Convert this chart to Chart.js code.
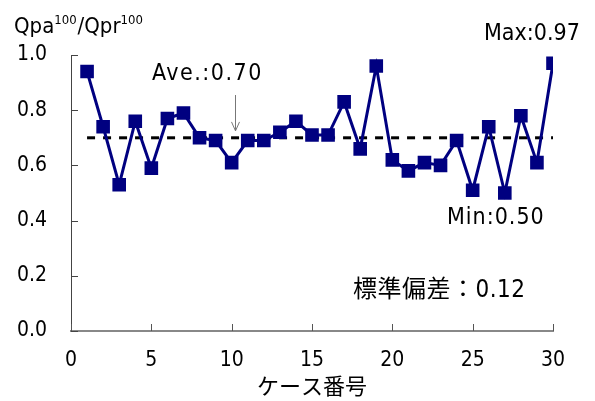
<!DOCTYPE html>
<html>
<head>
<meta charset="utf-8">
<script src="https://cdn.jsdelivr.net/npm/chart.js@4.4.1/dist/chart.umd.min.js"></script>
<style>
  html, body { margin: 0; padding: 0; background: #fff; }
  #wrap { width: 595px; height: 401px; }
</style>
</head>
<body>
<div id="wrap"><canvas id="myChart" width="595" height="401"></canvas></div>
<script>
var caseNo = [1,2,3,4,5,6,7,8,9,10,11,12,13,14,15,16,17,18,19,20,21,22,23,24,25,26,27,28,29,30];
var ratio = [0.94,0.74,0.53,0.76,0.59,0.77,0.79,0.70,0.69,0.61,0.69,0.69,0.72,0.76,0.71,0.71,0.83,0.66,0.96,0.62,0.58,0.61,0.60,0.69,0.51,0.74,0.50,0.78,0.61,0.97];
var average = 0.70;
var yTicks = [0.0, 0.2, 0.4, 0.6, 0.8, 1.0];
var xTicks = [0, 5, 10, 15, 20, 25, 30];

var FONT = '"DejaVu Sans Condensed", "Noto Sans CJK JP", sans-serif';

document.addEventListener("DOMContentLoaded", function() {
    var linePts = caseNo.map(function(c, i) { return {x: c, y: ratio[i]}; });
    var avePts = [{x: caseNo[0], y: average}, {x: caseNo[caseNo.length - 1], y: average}];

    function note(c, text, x, y, size, spacing) {
        c.font = size + 'px ' + FONT;
        c.letterSpacing = spacing + 'px';
        c.fillText(text, x, y);
        c.letterSpacing = '0px';
    }

    // inward tick marks, axis titles and notes
    var extras = {
        id: 'extras',
        afterDraw: function(chart) {
            var c = chart.ctx, xs = chart.scales.x, ys = chart.scales.y;
            var area = chart.chartArea;
            c.save();
            c.strokeStyle = '#444';
            c.lineWidth = 1;
            yTicks.forEach(function(v) {
                var py = Math.round(ys.getPixelForValue(v)) + 0.5;
                c.beginPath(); c.moveTo(area.left, py); c.lineTo(area.left + 7, py); c.stroke();
            });
            c.strokeStyle = '#555';
            xTicks.forEach(function(v) {
                var px = Math.round(xs.getPixelForValue(v)) + 0.5;
                c.beginPath(); c.moveTo(px, area.bottom); c.lineTo(px, area.bottom - 7); c.stroke();
            });

            c.fillStyle = '#000';
            c.textBaseline = 'alphabetic';
            c.textAlign = 'left';
            // y title with superscripts
            var x = 14, base = 33;
            var parts = [['Qpa', 22, 0], ['100', 13, -9], ['/Qpr', 22, 0], ['100', 13, -9]];
            parts.forEach(function(p) {
                c.font = p[1] + 'px ' + FONT;
                c.fillText(p[0], x, base + p[2]);
                x += c.measureText(p[0]).width + (p[1] < 20 ? 1 : 0);
            });

            c.font = '22px ' + FONT;
            c.textAlign = 'center';
            c.fillText('ケース番号', (area.left + area.right) / 2, 394);

            c.textAlign = 'left';
            c.textBaseline = 'middle';
            note(c, 'Ave.:0.70', 152, 74, 23, 1.5);
            note(c, 'Max:0.97', 484, 34, 23, 0);
            note(c, 'Min:0.50', 447, 218, 23, 1);
            note(c, '標準偏差：0.12', 353, 291, 24, 0.5);

            // arrow to the average line
            var ax = Math.round(xs.getPixelForValue(10.2)) + 0.5;
            var y0 = ys.getPixelForValue(0.855), y1 = ys.getPixelForValue(0.725);
            c.strokeStyle = '#777';
            c.lineWidth = 1;
            c.beginPath(); c.moveTo(ax, y0); c.lineTo(ax, y1); c.stroke();
            c.beginPath(); c.moveTo(ax - 4, y1 - 9); c.lineTo(ax, y1); c.lineTo(ax + 4, y1 - 9); c.stroke();
            c.restore();
        }
    };

    var ctx = document.getElementById('myChart').getContext('2d');
    new Chart(ctx, {
        type: 'line',
        data: {
            datasets: [{
                data: linePts,
                borderColor: '#000080',
                backgroundColor: '#000080',
                borderWidth: 3,
                pointStyle: 'rect',
                pointRadius: 7.5,
                pointHoverRadius: 7.5,
                tension: 0,
                order: 1
            }, {
                data: avePts,
                borderColor: '#000',
                borderWidth: 3,
                borderDash: [8, 8],
                pointRadius: 0,
                order: 2
            }]
        },
        options: {
            responsive: false,
            animation: false,
            events: [],
            layout: { padding: { top: 55, right: 42, left: 0, bottom: 0 } },
            plugins: { legend: { display: false }, tooltip: { enabled: false } },
            scales: {
                x: {
                    type: 'linear',
                    min: 0, max: 30,
                    afterFit: function(s) { s.height = 70; },
                    afterBuildTicks: function(s) { s.ticks = xTicks.map(function(v) { return {value: v}; }); },
                    grid: { display: false, drawTicks: false },
                    border: { display: true, color: '#888', width: 2 },
                    ticks: { padding: 17, color: '#000', font: { family: FONT, size: 21 } }
                },
                y: {
                    min: 0, max: 1,
                    afterFit: function(s) { s.width = 71; },
                    afterBuildTicks: function(s) { s.ticks = yTicks.map(function(v) { return {value: v}; }); },
                    grid: { display: false, drawTicks: false },
                    border: { display: true, color: '#444', width: 1 },
                    ticks: {
                        padding: 24, color: '#000', font: { family: FONT, size: 21 },
                        callback: function(v) { return Number(v).toFixed(1); }
                    }
                }
            }
        },
        plugins: [extras]
    });
});
</script>
</body>
</html>
